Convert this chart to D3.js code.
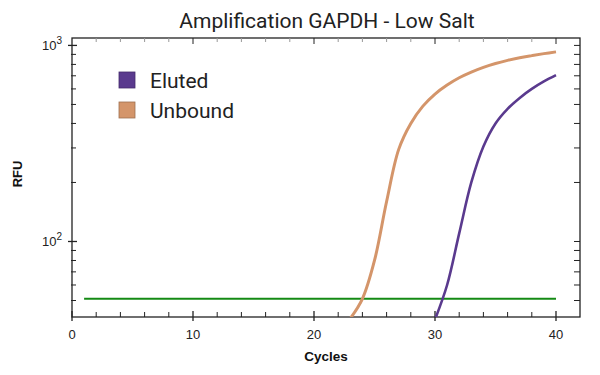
<!DOCTYPE html>
<html><head><meta charset="utf-8">
<script src="https://cdn.jsdelivr.net/npm/d3@7"></script>
<style>body{margin:0;background:#fff;}svg{display:block;}</style>
</head><body>
<svg id="c" width="600" height="375"></svg>
<script>
const titleText = "Amplification GAPDH - Low Salt";
const seriesNames = ["Eluted", "Unbound"];
const seriesColors = ["#5a3a8e", "#d4956a"];
const elutedCycles = [30, 31, 32, 33, 34, 35, 36, 37, 38, 39, 40];
const elutedRFU    = [40, 60, 110, 200, 305, 400, 475, 540, 600, 655, 705];
const unboundCycles = [23, 24, 25, 26, 27, 28, 29, 30, 31, 32, 33, 34, 35, 36, 37, 38, 39, 40];
const unboundRFU    = [40.5, 51, 80, 160, 295, 400, 490, 565, 628, 684, 731, 773, 809, 839, 865, 887, 908, 927];
const thresholdCycles = [1, 40];
const thresholdRFU = [51, 51];
const xTickValues = [0, 10, 20, 30, 40];
const yMajorTicks = [100, 1000];
const yMinorTicks = [50, 60, 70, 80, 90, 200, 300, 400, 500, 600, 700, 800, 900];

const svg = d3.select("#c");
const L = 72, R = 580, T = 38, B = 317;
const x = d3.scaleLinear().domain([0, 42]).range([L, L + (556 - 72) * 42 / 40]);
const y = d3.scaleLog().domain([41.2, 1091]).range([B, T]);

svg.append("defs").append("clipPath").attr("id", "clip")
  .append("rect").attr("x", L).attr("y", T).attr("width", R - L).attr("height", B - T);

// title
svg.append("text").attr("x", 327).attr("y", 28).attr("text-anchor", "middle")
  .attr("font-family", "Roboto, sans-serif").attr("font-size", 21).attr("fill", "#222")
  .text(titleText);

// frame
svg.append("rect").attr("x", L).attr("y", T).attr("width", R - L).attr("height", B - T)
  .attr("fill", "none").attr("stroke", "#222").attr("stroke-width", 1.3);

const tickG = svg.append("g").attr("stroke", "#222").attr("stroke-width", 1);
const xMinor = d3.range(2, 41, 2).filter(v => v % 10 !== 0);
// bottom ticks
xMinor.forEach(v => tickG.append("line").attr("x1", x(v)).attr("x2", x(v)).attr("y1", B).attr("y2", B - 5));
xTickValues.forEach(v => tickG.append("line").attr("x1", x(v)).attr("x2", x(v)).attr("y1", B + 4).attr("y2", B - 6).attr("stroke-width", 1.3));
// top ticks
d3.range(2, 41, 2).forEach(v => tickG.append("line").attr("x1", x(v)).attr("x2", x(v)).attr("y1", T).attr("y2", T + (v % 10 === 0 ? 6 : 4)).attr("stroke", v % 10 === 0 ? "#222" : "#999"));
// left ticks
yMinorTicks.forEach(v => tickG.append("line").attr("x1", L - 1).attr("x2", L + 4).attr("y1", y(v)).attr("y2", y(v)));
yMajorTicks.forEach(v => tickG.append("line").attr("x1", L - 4).attr("x2", L + 5).attr("y1", y(v)).attr("y2", y(v)).attr("stroke-width", 1.3));
// right ticks
yMinorTicks.concat(yMajorTicks).forEach(v => tickG.append("line").attr("x1", R).attr("x2", R - 6).attr("y1", y(v)).attr("y2", y(v)));

// x labels
svg.append("g").selectAll("text").data(xTickValues).join("text")
  .attr("x", d => x(d)).attr("y", B + 22).attr("text-anchor", "middle")
  .attr("font-family", "Liberation Sans, Arial, sans-serif").attr("font-size", 13).attr("fill", "#222")
  .text(d => d);
// y labels
const yl = svg.append("g").selectAll("text").data(yMajorTicks).join("text")
  .attr("x", 62).attr("y", d => y(d) + 5).attr("text-anchor", "end")
  .attr("font-family", "Liberation Sans, Arial, sans-serif").attr("font-size", 13).attr("fill", "#222");
yl.append("tspan").text("10");
yl.append("tspan").attr("dy", -6).attr("font-size", 10).text(d => Math.round(Math.log10(d)));

// axis titles
svg.append("text").attr("x", 326).attr("y", 361).attr("text-anchor", "middle")
  .attr("font-family", "Liberation Sans, Arial, sans-serif").attr("font-weight", "bold").attr("font-size", 13.5).attr("fill", "#111")
  .text("Cycles");
svg.append("text").attr("transform", "translate(22,174) rotate(-90)").attr("text-anchor", "middle")
  .attr("font-family", "Liberation Sans, Arial, sans-serif").attr("font-weight", "bold").attr("font-size", 13).attr("fill", "#111")
  .text("RFU");

// lines
const line = d3.line().x(d => x(d[0])).y(d => y(d[1]));
const smooth = d3.line().x(d => x(d[0])).y(d => y(d[1])).curve(d3.curveCatmullRom.alpha(0.5));
const plot = svg.append("g").attr("clip-path", "url(#clip)");
plot.append("path").datum(d3.zip(thresholdCycles, thresholdRFU)).attr("d", line)
  .attr("fill", "none").attr("stroke", "#148a14").attr("stroke-width", 2);
plot.append("path").datum(d3.zip(unboundCycles, unboundRFU)).attr("d", smooth)
  .attr("fill", "none").attr("stroke", seriesColors[1]).attr("stroke-width", 3).attr("stroke-linejoin", "round");
plot.append("path").datum(d3.zip(elutedCycles, elutedRFU)).attr("d", smooth)
  .attr("fill", "none").attr("stroke", seriesColors[0]).attr("stroke-width", 2.6).attr("stroke-linejoin", "round");

// legend
const lg = svg.append("g").selectAll("g").data(seriesNames).join("g")
  .attr("transform", (d, i) => `translate(119,${72 + i * 30})`);
lg.append("rect").attr("width", 16).attr("height", 16).attr("fill", (d, i) => seriesColors[i])
  .attr("stroke", (d, i) => d3.color(seriesColors[i]).darker(0.8)).attr("stroke-width", 0.8);
lg.append("text").attr("x", 31).attr("y", 15.5)
  .attr("font-family", "Roboto, sans-serif").attr("font-size", 21).attr("fill", "#222")
  .text(d => d);
</script>
</body></html>
